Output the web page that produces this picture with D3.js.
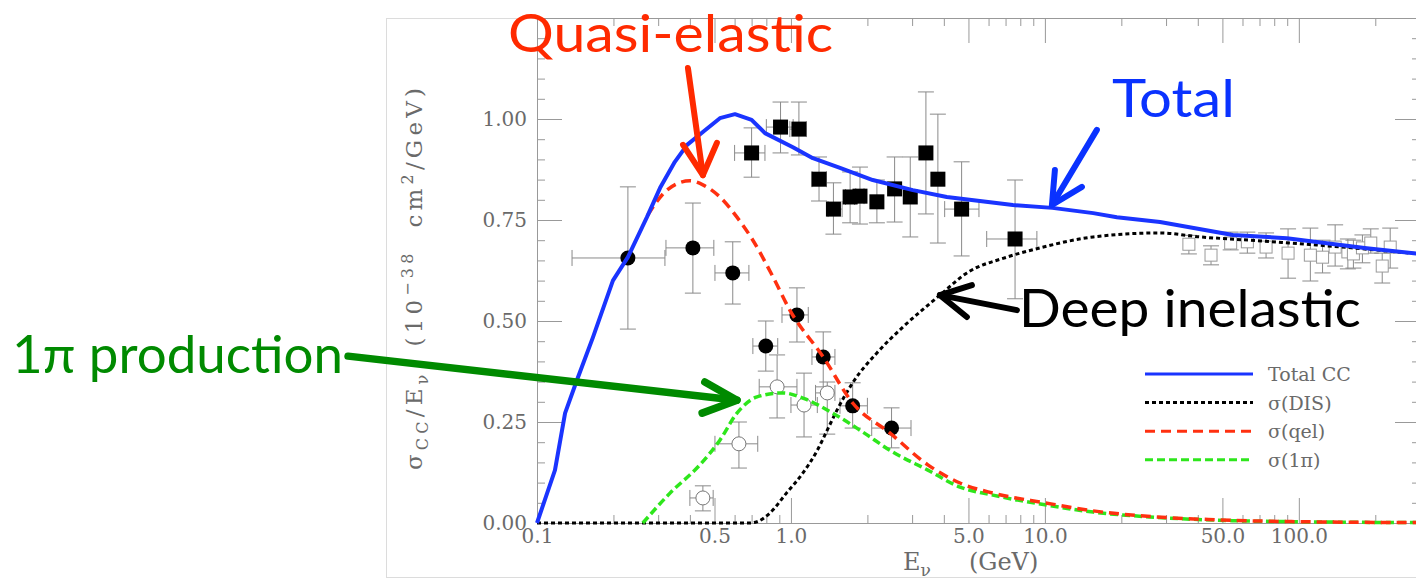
<!DOCTYPE html>
<html>
<head>
<meta charset="utf-8">
<script src="https://cdn.jsdelivr.net/npm/d3@7"></script>
<style>
  body { margin: 0; background: #fff; }
  svg { display: block; }
</style>
</head>
<body>
<div id="chart"></div>
<script>
// curves: [E (GeV), sigma/E (1e-38 cm^2/GeV)]
const totalCC = [
  [0.1, 0], [0.1177, 0.131], [0.129, 0.272], [0.1437, 0.354], [0.1662, 0.46],
  [0.199, 0.6], [0.228, 0.658], [0.271, 0.757], [0.305, 0.829], [0.349, 0.894],
  [0.39, 0.936], [0.45, 0.968], [0.525, 1.002], [0.602, 1.012], [0.7, 0.998],
  [0.79, 0.965], [1.018, 0.93], [1.22, 0.903], [1.56, 0.879], [2.1, 0.849],
  [3.02, 0.824], [4.11, 0.807], [7.48, 0.787], [10.7, 0.78], [15.5, 0.767],
  [19.2, 0.757], [28.4, 0.745], [55, 0.713], [89.7, 0.705], [185, 0.68], [300, 0.666]
];
const disCurve = [
  [0.1, 0], [0.688, 0], [0.735, 0.003], [0.827, 0.025], [0.96, 0.074], [1.115, 0.124],
  [1.27, 0.18], [1.39, 0.23], [1.52, 0.28], [1.75, 0.347], [2.18, 0.421], [2.76, 0.485],
  [3.86, 0.564], [4.93, 0.619], [7.08, 0.658], [9.56, 0.681], [15.5, 0.708], [28.4, 0.718],
  [41, 0.708], [64, 0.7], [118, 0.688], [300, 0.666]
];
const qelCurve = [
  [0.273, 0.762], [0.325, 0.824], [0.4, 0.847], [0.45, 0.837], [0.525, 0.807],
  [0.613, 0.757], [0.708, 0.7], [0.85, 0.609], [0.99, 0.527], [1.34, 0.411],
  [1.75, 0.297], [2.45, 0.223], [3.46, 0.144], [4.63, 0.099], [6.24, 0.074],
  [10, 0.05], [15.5, 0.03], [27.5, 0.015], [47, 0.008], [150, 0.002], [300, 0.001]
];
const pionCurve = [
  [0.261, 0], [0.334, 0.074], [0.438, 0.144], [0.525, 0.205], [0.613, 0.272],
  [0.735, 0.312], [0.93, 0.322], [1.136, 0.307], [1.46, 0.272], [1.92, 0.225],
  [2.51, 0.176], [3.46, 0.131], [4.63, 0.089], [6.24, 0.069], [10, 0.045],
  [15.5, 0.027], [27.5, 0.014], [47, 0.007], [150, 0.002], [300, 0.001]
];

// measurements: [E, value, E low, E high, value low, value high]
const qelData = [
  [0.228, 0.656, 0.1374, 0.319, 0.48, 0.832],
  [0.411, 0.681, 0.322, 0.497, 0.569, 0.792],
  [0.59, 0.619, 0.502, 0.683, 0.542, 0.696],
  [0.796, 0.438, 0.708, 0.887, 0.376, 0.5],
  [1.056, 0.515, 0.922, 1.17, 0.448, 0.582],
  [1.34, 0.411, 1.21, 1.49, 0.337, 0.473],
  [1.75, 0.29, 1.56, 2.0, 0.235, 0.347],
  [2.49, 0.235, 2.08, 2.97, 0.186, 0.285]
];
const pionData = [
  [0.45, 0.062, 0.4, 0.494, 0.03, 0.092],
  [0.624, 0.196, 0.502, 0.74, 0.136, 0.25],
  [0.882, 0.337, 0.75, 1.056, 0.26, 0.416],
  [1.126, 0.292, 1.0, 1.27, 0.213, 0.371],
  [1.39, 0.322, 1.25, 1.49, 0.22, 0.349]
];
const ccData = [
  [0.7, 0.916, 0.6, 0.79, 0.856, 0.978],
  [0.91, 0.98, 0.8, 1.02, 0.916, 1.042],
  [1.075, 0.975, 0.99, 1.15, 0.911, 1.042],
  [1.29, 0.851, 1.21, 1.38, 0.797, 0.906],
  [1.47, 0.777, 1.4, 1.59, 0.715, 0.842],
  [1.71, 0.807, 1.64, 1.78, 0.743, 0.869],
  [1.87, 0.809, 1.8, 1.94, 0.74, 0.881],
  [2.18, 0.795, 2.18, 2.18, 0.743, 0.849],
  [2.56, 0.827, 2.56, 2.56, 0.745, 0.906],
  [2.95, 0.807, 2.95, 2.95, 0.708, 0.906],
  [3.4, 0.916, 3.4, 3.4, 0.765, 1.067],
  [3.79, 0.851, 3.79, 3.79, 0.693, 1.012],
  [4.7, 0.777, 4.03, 5.5, 0.661, 0.894],
  [7.63, 0.703, 5.9, 9.3, 0.555, 0.849]
];
const ccHighData = [
  [36.9, 0.69, 36.9, 36.9, 0.666, 0.712],
  [45.1, 0.663, 45.1, 45.1, 0.639, 0.686],
  [53.9, 0.693, 53.9, 53.9, 0.676, 0.72],
  [62.7, 0.696, 62.7, 62.7, 0.668, 0.72],
  [74.3, 0.683, 74.3, 74.3, 0.656, 0.718],
  [90.7, 0.668, 90.7, 90.7, 0.606, 0.728],
  [111, 0.663, 111, 111, 0.599, 0.73],
  [124, 0.658, 124, 124, 0.619, 0.7],
  [139, 0.683, 139, 139, 0.636, 0.738],
  [156, 0.671, 156, 156, 0.629, 0.703],
  [164, 0.666, 164, 164, 0.631, 0.7],
  [178, 0.681, 178, 178, 0.644, 0.713],
  [192, 0.693, 192, 192, 0.668, 0.728],
  [213, 0.636, 213, 213, 0.594, 0.668],
  [229, 0.683, 229, 229, 0.631, 0.73]
];

const xMajor = [0.1, 0.5, 1, 5, 10, 50, 100];
const yMajor = [0, 0.25, 0.5, 0.75, 1.0];
const legendLabels = ['Total CC', 'σ(DIS)', 'σ(qel)', 'σ(1π)'];
const noteLabels = ['Quasi-elastic', 'Total', 'Deep inelastic', '1π production'];

const w = 1416;
const h = 581;

const x = d3.scaleLog().domain([0.1, 300]).range([537, 1420]);
const y = d3.scaleLinear().domain([0, 1.25]).range([523, 18]);

const svg = d3.select('#chart').append('svg').attr('width', w).attr('height', h);
svg.append('rect').attr('width', w).attr('height', h).attr('fill', '#fff');

// outer frame of the figure
svg.append('rect')
  .attr('x', 386.5).attr('y', 18.5).attr('width', 1100).attr('height', 559)
  .attr('fill', 'none').attr('stroke', '#dcdcdc');

// ticks
const minorX = [];
[0.1, 1, 10, 100].forEach((d) => {
  for (let k = 1; k < 10; k++) {
    const v = +(k * d).toPrecision(3);
    if (v <= 300 && !xMajor.includes(v)) minorX.push(v);
  }
});
const minorY = d3.range(0, 1.2501, 0.05).filter((v) => !yMajor.some((m) => Math.abs(m - v) < 1e-6));

const axisColor = '#999';
const styleAxis = (g) => {
  g.attr('font-family', 'DejaVu Serif, serif').attr('font-size', 20);
  g.selectAll('.domain').attr('stroke', axisColor);
  g.selectAll('.tick line').attr('stroke', axisColor);
  g.selectAll('.tick text').attr('fill', '#6a6a6a');
};

const x0 = x.range()[0];
const x1 = x.range()[1];

svg.append('g').attr('transform', `translate(0,${y(0)})`)
  .call(d3.axisBottom(x).tickValues(minorX).tickSize(-8).tickSizeOuter(0).tickFormat(''))
  .call(styleAxis);
svg.append('g').attr('transform', `translate(0,${y(0)})`)
  .call(d3.axisBottom(x).tickValues(xMajor).tickSize(-25).tickSizeOuter(0).tickPadding(6)
    .tickFormat(d3.format('.1f')))
  .call(styleAxis);
svg.append('g').attr('transform', `translate(0,${y(1.25)})`)
  .call(d3.axisTop(x).tickValues(minorX).tickSize(-8).tickSizeOuter(0).tickFormat(''))
  .call(styleAxis);
svg.append('g').attr('transform', `translate(0,${y(1.25)})`)
  .call(d3.axisTop(x).tickValues(xMajor).tickSize(-25).tickSizeOuter(0).tickFormat(''))
  .call(styleAxis);
svg.append('g').attr('transform', `translate(${x0},0)`)
  .call(d3.axisLeft(y).tickValues(minorY).tickSize(-8).tickSizeOuter(0).tickFormat(''))
  .call(styleAxis);
svg.append('g').attr('transform', `translate(${x0},0)`)
  .call(d3.axisLeft(y).tickValues(yMajor).tickSize(-25).tickSizeOuter(0).tickPadding(10)
    .tickFormat(d3.format('.2f')))
  .call(styleAxis);
svg.append('g').attr('transform', `translate(${x1},0)`)
  .call(d3.axisRight(y).tickValues(minorY).tickSize(-8).tickSizeOuter(0).tickFormat(''))
  .call(styleAxis);
svg.append('g').attr('transform', `translate(${x1},0)`)
  .call(d3.axisRight(y).tickValues(yMajor).tickSize(-25).tickSizeOuter(0).tickFormat(''))
  .call(styleAxis);

// axis titles
const yt = svg.append('text')
  .attr('transform', 'translate(422,279) rotate(-90)')
  .attr('text-anchor', 'middle')
  .attr('font-family', 'DejaVu Serif, serif')
  .attr('font-size', 23)
  .attr('fill', '#6a6a6a')
  .attr('textLength', 382)
  .attr('lengthAdjust', 'spacing');
yt.append('tspan').text('σ');
yt.append('tspan').attr('font-size', 16).attr('dy', 6).text('CC');
yt.append('tspan').attr('dy', -6).text('/E');
yt.append('tspan').attr('font-size', 16).attr('dy', 6).text('ν');
yt.append('tspan').attr('dy', -6).attr('dx', 24).text('(10');
yt.append('tspan').attr('font-size', 16).attr('dy', -9).text('−38');
yt.append('tspan').attr('dy', 9).attr('dx', 22).text('cm');
yt.append('tspan').attr('font-size', 16).attr('dy', -9).text('2');
yt.append('tspan').attr('dy', 9).text('/GeV)');

const xt = svg.append('text')
  .attr('x', 903).attr('y', 570)
  .attr('font-family', 'DejaVu Serif, serif')
  .attr('font-size', 24)
  .attr('fill', '#6a6a6a');
xt.append('tspan').text('E');
xt.append('tspan').attr('font-size', 17).attr('dy', 6).text('ν');
xt.append('tspan').attr('dy', -6).attr('dx', 38).text('(GeV)');

// error bars
const cap = 8;
const errColor = '#8a8a8a';
const drawErrors = (data) => {
  const g = svg.append('g').attr('stroke', errColor).attr('stroke-width', 1).attr('fill', 'none');
  data.forEach((d) => {
    const px = x(d[0]);
    const py = y(d[1]);
    g.append('line').attr('x1', px).attr('x2', px).attr('y1', y(d[4])).attr('y2', y(d[5]));
    [d[4], d[5]].forEach((v) => {
      g.append('line').attr('x1', px - cap).attr('x2', px + cap).attr('y1', y(v)).attr('y2', y(v));
    });
    if (d[3] > d[2]) {
      g.append('line').attr('x1', x(d[2])).attr('x2', x(d[3])).attr('y1', py).attr('y2', py);
      [d[2], d[3]].forEach((e) => {
        g.append('line').attr('x1', x(e)).attr('x2', x(e)).attr('y1', py - cap).attr('y2', py + cap);
      });
    }
  });
};
[qelData, pionData, ccData, ccHighData].forEach(drawErrors);

svg.append('g').selectAll('rect').data(ccHighData).join('rect')
  .attr('x', (d) => x(d[0]) - 6).attr('y', (d) => y(d[1]) - 6)
  .attr('width', 12).attr('height', 12)
  .attr('fill', '#fff').attr('stroke', '#9a9a9a');
svg.append('g').selectAll('rect').data(ccData).join('rect')
  .attr('x', (d) => x(d[0]) - 7.5).attr('y', (d) => y(d[1]) - 7.5)
  .attr('width', 15).attr('height', 15)
  .attr('fill', '#000');
svg.append('g').selectAll('circle').data(pionData).join('circle')
  .attr('cx', (d) => x(d[0])).attr('cy', (d) => y(d[1])).attr('r', 7)
  .attr('fill', '#fff').attr('stroke', '#777');
svg.append('g').selectAll('circle').data(qelData).join('circle')
  .attr('cx', (d) => x(d[0])).attr('cy', (d) => y(d[1])).attr('r', 7.5)
  .attr('fill', '#000');

// curves
const smooth = d3.line().x((d) => x(d[0])).y((d) => y(d[1])).curve(d3.curveMonotoneX);
const straight = d3.line().x((d) => x(d[0])).y((d) => y(d[1]));
const series = [
  { data: disCurve, color: '#000', width: 3, dash: '4,3', line: smooth },
  { data: pionCurve, color: '#2ee61c', width: 3.5, dash: '8,4', line: smooth },
  { data: qelCurve, color: '#ff3010', width: 3.5, dash: '10,6', line: smooth },
  { data: totalCC, color: '#1a34ff', width: 4, dash: null, line: straight }
];
series.forEach((s) => {
  svg.append('path')
    .attr('d', s.line(s.data))
    .attr('fill', 'none').attr('stroke', s.color).attr('stroke-width', s.width)
    .attr('stroke-linejoin', 'round')
    .attr('stroke-dasharray', s.dash);
});

// legend
const legendOrder = [3, 0, 2, 1];
const lg = svg.append('g').attr('transform', 'translate(1145,374)');
legendLabels.forEach((label, i) => {
  const s = series[legendOrder[i]];
  const ly = i * 28.6;
  lg.append('line').attr('x1', 0).attr('x2', 108).attr('y1', ly).attr('y2', ly)
    .attr('stroke', s.color).attr('stroke-width', 3).attr('stroke-dasharray', s.dash);
  lg.append('text').attr('x', 123).attr('y', ly + 7)
    .attr('font-family', 'DejaVu Serif, serif').attr('font-size', 19)
    .attr('fill', '#6a6a6a').text(label);
});

// annotations, placed in data coordinates
const notes = [
  { at: [0.0769, 1.166], len: 325, color: '#ff2a00' },
  { at: [18.36, 1.005], len: 123, color: '#0a32ff' },
  { at: [7.9, 0.485], len: 342, color: '#000' },
  { at: [0.000857, 0.371], len: 331, color: '#008a00' }
];
const arrows = [
  { color: '#ff2a00', width: 6, tail: [0.393, 1.126], tip: [0.45, 0.861], wings: [[0.376, 0.936], [0.511, 0.941]] },
  { color: '#0a32ff', width: 6, tail: [16.02, 0.973], tip: [10.66, 0.787], wings: [[10.95, 0.874], [13.99, 0.832]] },
  { color: '#000', width: 6, tail: [7.76, 0.527], tip: [3.86, 0.564], wings: [[5.16, 0.589], [4.93, 0.51]] },
  { color: '#008a00', width: 7.5, tail: [0.01803, 0.413], tip: [0.613, 0.304], wings: [[0.458, 0.349], [0.447, 0.272]] }
];
const pt = (d) => [x(d[0]), y(d[1])];
arrows.forEach((a) => {
  const g = svg.append('g').attr('stroke', a.color).attr('stroke-width', a.width)
    .attr('stroke-linecap', 'round').attr('stroke-linejoin', 'round').attr('fill', 'none');
  g.append('path').attr('d', d3.line()([pt(a.tail), pt(a.tip)]));
  g.append('path').attr('d', d3.line()([pt(a.wings[0]), pt(a.tip), pt(a.wings[1])]));
});
notes.forEach((n, i) => {
  const [px, py] = pt(n.at);
  svg.append('text').attr('x', px).attr('y', py)
    .attr('font-family', 'Lato, sans-serif').attr('font-size', 52)
    .attr('fill', n.color)
    .attr('textLength', n.len).attr('lengthAdjust', 'spacingAndGlyphs')
    .text(noteLabels[i]);
});
</script>
</body>
</html>
